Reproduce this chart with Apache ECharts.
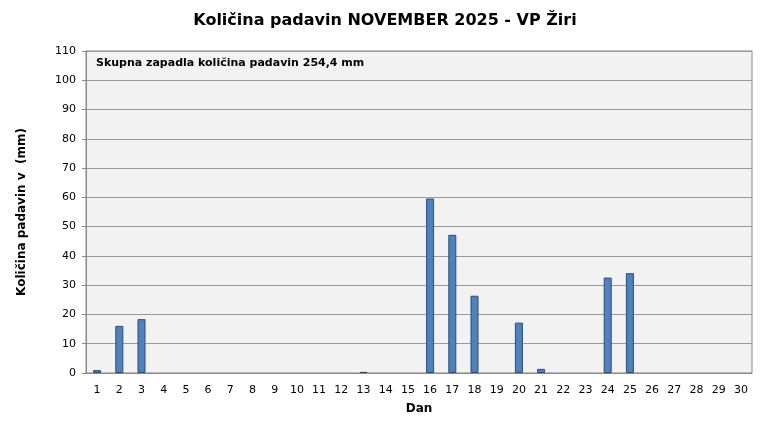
<!DOCTYPE html><html><head><meta charset="utf-8"><script src="https://cdn.jsdelivr.net/npm/echarts@6/dist/echarts.min.js"></script></head><body style="margin:0;background:#fff"><div id="c" style="width:770px;height:439px"></div><script>
const days=Array.from({length:30},(_,i)=>String(i+1));
const rain=[1.0,16.1,18.4,0,0,0,0,0,0,0,0,0,0.4,0,0,59.6,47.2,26.4,0,17.2,1.4,0,0,32.6,34.1,0,0,0,0,0];
const title='Količina padavin NOVEMBER 2025 - VP Žiri';
const note='Skupna zapadla količina padavin 254,4 mm';
const f='"DejaVu Sans", sans-serif';
const ch=echarts.init(document.getElementById('c'));
ch.setOption({animation:false,
title:{text:title,left:'center',top:8,textStyle:{fontFamily:f,fontSize:16,fontWeight:'bold',color:'#000'}},
graphic:[{type:'text',left:96,top:58,style:{text:note,font:'bold 11px '+f,fill:'#000'}}],
grid:{left:86,right:18,top:51,bottom:66,backgroundColor:'#f2f2f2',show:true,borderColor:'#888',borderWidth:1},
xAxis:{type:'category',data:days,name:'Dan',nameLocation:'middle',nameGap:30,nameTextStyle:{fontFamily:f,fontWeight:'bold',fontSize:12,color:'#000'},axisTick:{show:false},axisLine:{lineStyle:{color:'#888'}},axisLabel:{fontFamily:f,fontSize:11,color:'#000',interval:0,margin:12}},
yAxis:{type:'value',min:0,max:110,interval:10,name:'Količina padavin v  (mm)',nameLocation:'middle',nameGap:58,nameTextStyle:{fontFamily:f,fontWeight:'bold',fontSize:12,color:'#000'},axisLine:{show:true,lineStyle:{color:'#888'}},axisTick:{show:true,length:4,lineStyle:{color:'#888'}},splitLine:{lineStyle:{color:'#999'}},axisLabel:{fontFamily:f,fontSize:11,color:'#000',margin:10}},
series:[{type:'bar',data:rain.map(v=>v===0?'-':v),barWidth:8,itemStyle:{color:'#4f81bd',borderColor:'#2c4d75',borderWidth:1}}]});
</script></body></html>
